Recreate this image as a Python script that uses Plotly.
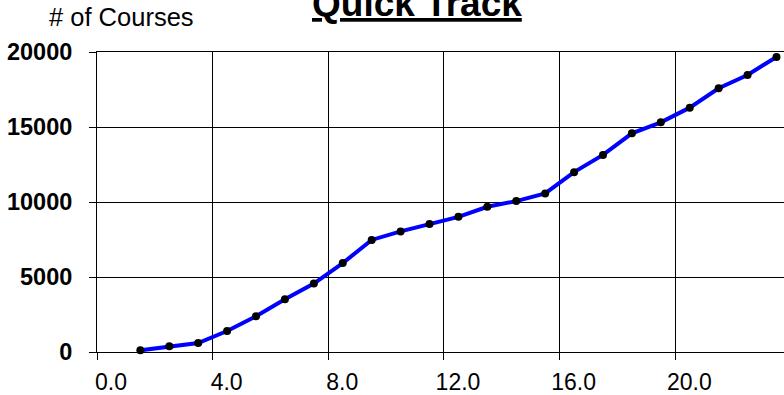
import plotly.graph_objects as go

x_vals = [1.5, 2.5, 3.5, 4.5, 5.5, 6.5, 7.5, 8.5, 9.5, 10.5, 11.5, 12.5,
          13.5, 14.5, 15.5, 16.5, 17.5, 18.5, 19.5, 20.5, 21.5, 22.5, 23.5]
courses = [110, 380, 600, 1400, 2380, 3510, 4560, 5930, 7470, 8040, 8540, 9010,
           9680, 10060, 10570, 11990, 13140, 14580, 15310, 16290, 17580, 18470, 19670]
x_ticks = [0, 4, 8, 12, 16, 20]
x_tick_text = ["0.0", "4.0", "8.0", "12.0", "16.0", "20.0"]
y_ticks = [0, 5000, 10000, 15000, 20000]
y_tick_text = ["0", "5000", "10000", "15000", "20000"]

FONT = "Liberation Sans, Arial, sans-serif"

fig = go.Figure()
fig.add_trace(go.Scatter(
    x=x_vals, y=courses, mode="lines+markers",
    line=dict(color="#0000FF", width=4),
    marker=dict(color="#000000", size=8),
    showlegend=False,
    cliponaxis=False,
))

fig.update_layout(
    width=784, height=395,
    margin=dict(l=97, r=0, t=52, b=43, autoexpand=False),
    plot_bgcolor="white", paper_bgcolor="white",
    font=dict(family=FONT, color="black"),
    xaxis=dict(
        range=[0, 23.76], tickvals=x_ticks, ticktext=x_tick_text,
        showgrid=True, gridcolor="#000000", gridwidth=1,
        showline=True, linecolor="#000000", linewidth=1, mirror=True,
        ticks="outside", ticklen=7, tickcolor="#000000",
        tickfont=dict(size=23, family=FONT, color="black"),
        ticklabelshift=14, ticklabelstandoff=2,
        zeroline=False, automargin=False,
    ),
    yaxis=dict(
        range=[0, 20000], tickvals=y_ticks, ticktext=y_tick_text,
        showgrid=True, gridcolor="#000000", gridwidth=1,
        showline=True, linecolor="#000000", linewidth=1,
        ticks="outside", ticklen=7, tickcolor="#000000",
        tickfont=dict(size=23.5, family=FONT, color="black", weight="bold"),
        ticklabelstandoff=12,
        zeroline=False, automargin=False,
    ),
    annotations=[
        dict(text="<b><u>Quick Track</u></b>", xref="paper", yref="paper",
             x=(416.5 - 97) / 687, y=1 + (52 - 3) / 300,
             xanchor="center", yanchor="middle", showarrow=False,
             font=dict(size=37, family=FONT, color="black")),
        dict(text="# of Courses", xref="paper", yref="paper",
             x=(121 - 97) / 687, y=1 + (52 - 16.6) / 300,
             xanchor="center", yanchor="middle", showarrow=False,
             font=dict(size=25.5, family=FONT, color="black")),
    ],
)

fig.write_html("out.html", config={"displayModeBar": False},
               post_script="document.body.style.margin='0';document.body.style.overflow='hidden';")
